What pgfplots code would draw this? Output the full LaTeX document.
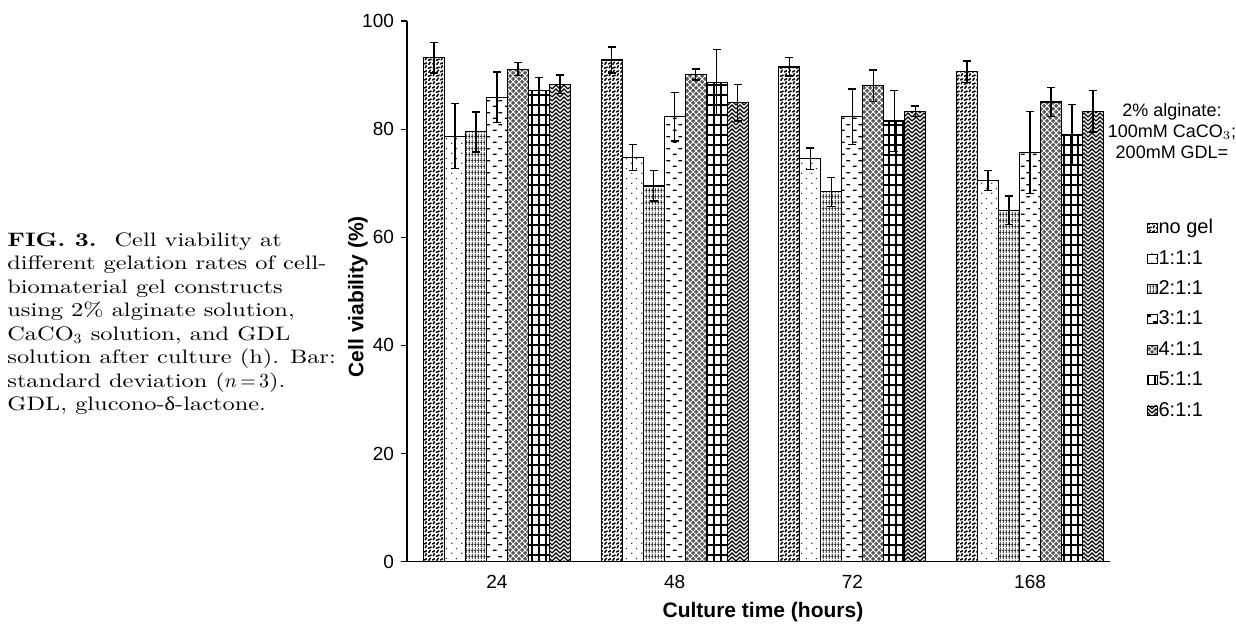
\documentclass[border=0pt]{standalone}
\usepackage{fontspec}
\usepackage{pgfplots}
\pgfplotsset{compat=1.18}
\usetikzlibrary{patterns}
\newfontfamily\arialfont{Liberation Sans}
\newfontfamily\greekserif[FakeStretch=1.15]{Liberation Serif}
\newfontfamily\capfont[FakeStretch=1.25]{Latin Modern Roman}

% ---------- custom patterns ----------
\pgfdeclarepatternformonly{speckle}{\pgfqpoint{-0.5pt}{-0.5pt}}{\pgfqpoint{4.5pt}{4.5pt}}{\pgfqpoint{4pt}{4pt}}{%
  \pgfsetlinewidth{0.75pt}\pgfsetroundcap
  \pgfpathmoveto{\pgfqpoint{0.3pt}{0.5pt}}\pgfpathlineto{\pgfqpoint{1.3pt}{1.1pt}}
  \pgfpathmoveto{\pgfqpoint{2.4pt}{0.3pt}}\pgfpathlineto{\pgfqpoint{3.2pt}{1.4pt}}
  \pgfpathmoveto{\pgfqpoint{0.6pt}{2.6pt}}\pgfpathlineto{\pgfqpoint{1.2pt}{3.6pt}}
  \pgfpathmoveto{\pgfqpoint{2.2pt}{2.4pt}}\pgfpathlineto{\pgfqpoint{3.6pt}{2.9pt}}
  \pgfusepath{stroke}}
\pgfdeclarepatternformonly{sparsedots}{\pgfqpoint{0pt}{0pt}}{\pgfqpoint{5pt}{5pt}}{\pgfqpoint{5pt}{5pt}}{%
  \pgfpathcircle{\pgfqpoint{1pt}{1pt}}{0.4pt}
  \pgfpathcircle{\pgfqpoint{3.5pt}{3.5pt}}{0.4pt}
  \pgfusepath{fill}}
\pgfdeclarepatternformonly{vstripes}{\pgfqpoint{0pt}{0pt}}{\pgfqpoint{1.5pt}{3pt}}{\pgfqpoint{1.5pt}{3pt}}{%
  \pgfsetlinewidth{0.5pt}
  \pgfpathmoveto{\pgfqpoint{0.75pt}{0pt}}\pgfpathlineto{\pgfqpoint{0.75pt}{3pt}}
  \pgfusepath{stroke}
  \pgfsetlinewidth{0.25pt}
  \pgfpathmoveto{\pgfqpoint{0pt}{1.5pt}}\pgfpathlineto{\pgfqpoint{1.5pt}{1.5pt}}
  \pgfusepath{stroke}}
\pgfdeclarepatternformonly{dashes}{\pgfqpoint{0pt}{0pt}}{\pgfqpoint{6pt}{6pt}}{\pgfqpoint{6pt}{6pt}}{%
  \pgfsetlinewidth{0.7pt}
  \pgfpathmoveto{\pgfqpoint{0.5pt}{1.5pt}}\pgfpathlineto{\pgfqpoint{2.5pt}{1.5pt}}
  \pgfpathmoveto{\pgfqpoint{3.5pt}{4.5pt}}\pgfpathlineto{\pgfqpoint{5.5pt}{4.5pt}}
  \pgfusepath{stroke}}
\pgfdeclarepatternformonly{gridpat}{\pgfqpoint{-0.5pt}{-0.5pt}}{\pgfqpoint{4pt}{5.5pt}}{\pgfqpoint{3.5pt}{5pt}}{%
  \pgfsetlinewidth{0.7pt}
  \pgfpathmoveto{\pgfqpoint{0pt}{0pt}}\pgfpathlineto{\pgfqpoint{3.5pt}{0pt}}
  \pgfpathmoveto{\pgfqpoint{0pt}{0pt}}\pgfpathlineto{\pgfqpoint{0pt}{5pt}}
  \pgfusepath{stroke}}
\pgfdeclarepatternformonly{chevron}{\pgfqpoint{-0.5pt}{-0.5pt}}{\pgfqpoint{4.5pt}{4.5pt}}{\pgfqpoint{4pt}{4pt}}{%
  \pgfsetlinewidth{0.6pt}
  \pgfpathmoveto{\pgfqpoint{0pt}{0pt}}\pgfpathlineto{\pgfqpoint{2pt}{2pt}}\pgfpathlineto{\pgfqpoint{4pt}{0pt}}
  \pgfpathmoveto{\pgfqpoint{0pt}{2pt}}\pgfpathlineto{\pgfqpoint{2pt}{4pt}}\pgfpathlineto{\pgfqpoint{4pt}{2pt}}
  \pgfusepath{stroke}}

% ---------- data: group index (24, 48, 72, 168 h), mean, SD ----------
\pgfplotstableread{
x y e
0 93.2 2.8
1 92.8 2.4
2 91.5 1.7
3 90.6 2.0
}\nogel
\pgfplotstableread{
x y e
0 78.7 6.0
1 74.8 2.4
2 74.5 2.0
3 70.5 1.8
}\ra
\pgfplotstableread{
x y e
0 79.5 3.7
1 69.5 2.8
2 68.4 2.7
3 65.0 2.6
}\rb
\pgfplotstableread{
x y e
0 85.9 4.7
1 82.3 4.5
2 82.3 5.1
3 75.7 7.6
}\rc
\pgfplotstableread{
x y e
0 91.1 1.2
1 90.1 1.0
2 88.0 2.9
3 85.0 2.7
}\rd
\pgfplotstableread{
x y e
0 87.1 2.5
1 88.6 6.1
2 81.5 5.6
3 79.0 5.6
}\re
\pgfplotstableread{
x y e
0 88.3 1.7
1 84.9 3.4
2 83.3 1.0
3 83.3 3.8
}\rf

\begin{document}
\begin{tikzpicture}
\useasboundingbox (-203.5pt,-31.65pt) rectangle (414.5pt,280.85pt);

\begin{axis}[
  at={(0,0)}, anchor=south west,
  scale only axis, width=351.5pt, height=270.35pt,
  xmin=-0.5065, xmax=3.45, ymin=0, ymax=100,
  axis x line*=bottom, axis y line*=left,
  axis line style={black, line width=0.6pt},
  xtick={0,1,2,3}, xticklabels={24,48,72,168},
  ytick={0,20,40,60,80,100},
  x tick style={draw=none},
  y tick style={black, line width=0.6pt},
  tick align=outside, major tick length=3pt,
  /pgf/number format/assume math mode=true,
  tick label style={font=\arialfont\fontsize{9.5}{11}\selectfont},
  xticklabel style={yshift=0pt},
  xlabel={\bfseries Culture time (hours)},
  ylabel={\bfseries Cell viability (\%)},
  label style={font=\arialfont\fontsize{10.5}{12}\selectfont},
  xlabel style={at={(axis description cs:0.5064,-0.093)}, anchor=center},
  ylabel style={at={(axis description cs:-0.0697,0.49)}, anchor=center},
  ybar=0pt, bar width=10.5pt,
  legend style={at={(axis description cs:1.0526,0.6375)}, anchor=north west,
    draw=none, fill=none, inner sep=0pt, row sep=4.5pt,
    font=\arialfont\fontsize{10}{12}\selectfont,
    nodes={inner sep=0.6pt, text height=7.5pt, text depth=2pt}},
  legend cell align=left,
  legend image code/.code={\draw[#1,draw=black,line width=0.4pt] (0pt,-2.3pt) rectangle (4.6pt,2.3pt);},
  every axis plot/.append style={draw=black, line width=0.6pt},
  error bars/y dir=both, error bars/y explicit,
  error bars/error bar style={black, line width=0.7pt},
  error bars/error mark options={rotate=90, black, mark size=2pt, line width=0.7pt},
]
\addplot[pattern=speckle, pattern color=black] table[x=x, y=y, y error=e] {\nogel};
\addplot[pattern=sparsedots, pattern color=black] table[x=x, y=y, y error=e] {\ra};
\addplot[pattern=vstripes, pattern color=black] table[x=x, y=y, y error=e] {\rb};
\addplot[pattern=dashes, pattern color=black] table[x=x, y=y, y error=e] {\rc};
\addplot[fill=black!65, postaction={pattern=crosshatch, pattern color=white}] table[x=x, y=y, y error=e] {\rd};
\addplot[pattern=gridpat, pattern color=black] table[x=x, y=y, y error=e] {\re};
\addplot[pattern=chevron, pattern color=black] table[x=x, y=y, y error=e] {\rf};
\legend{no gel,1:1:1,2:1:1,3:1:1,4:1:1,5:1:1,6:1:1}
\end{axis}

\node[align=center, font=\arialfont\fontsize{9}{10.5}\selectfont, inner sep=0pt]
  at (382.5pt,215.35pt) {2\% alginate:\\100mM CaCO$_3$;\\200mM GDL=};

\node[align=left, anchor=north west, inner sep=0pt, font=\capfont\fontsize{9.75}{11.75}\selectfont]
  at (-200pt,164.85pt) {\textbf{FIG. 3.}\hspace{9pt}Cell viability at\\
different gelation rates of cell-\\
biomaterial gel constructs\\
using 2\% alginate solution,\\
CaCO$_3$ solution, and GDL\\
solution after culture (h). Bar:\\
standard deviation ($n\,{=}\,3$).\\
GDL, glucono-{\greekserif δ}-lactone.};
\end{tikzpicture}
\end{document}
